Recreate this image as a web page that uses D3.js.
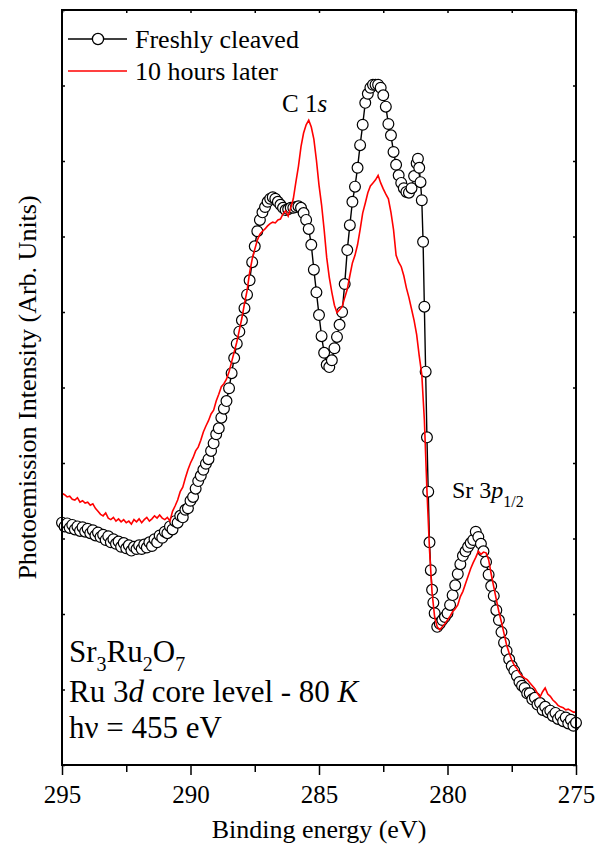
<!DOCTYPE html>
<html>
<head>
<meta charset="utf-8">
<script src="https://cdn.jsdelivr.net/npm/d3@7"></script>
<style>
  body { margin: 0; background: #fff; }
</style>
</head>
<body>
<svg id="chart" width="596" height="846"></svg>
<script>
const serif = '"Liberation Serif", "Times New Roman", Times, "DejaVu Serif", serif';

// binding energy grid, 295 -> 275 eV in 0.1 eV steps
const energies = d3.range(0, 201).map(i => +(295 - i * 0.1).toFixed(2));

// freshly cleaved, intensity (arb. units) at each energy above
const freshI = [
  3.21,3.16,3.20,3.14,3.18,3.12,3.16,3.10,3.15,3.09,
  3.13,3.07,3.11,3.04,3.08,3.02,3.05,2.98,3.03,2.95,
  2.99,2.93,2.96,2.89,2.94,2.87,2.91,2.84,2.89,2.86,
  2.91,2.86,2.92,2.88,2.95,2.90,2.99,2.95,3.04,3.01,
  3.09,3.07,3.16,3.12,3.23,3.21,3.30,3.28,3.38,3.40,
  3.50,3.55,3.66,3.76,3.83,3.91,3.99,4.05,4.16,4.26,
  4.38,4.46,4.60,4.72,4.82,4.99,5.19,5.39,5.58,5.74,
  5.89,6.05,6.23,6.42,6.66,6.87,7.07,7.22,7.32,7.39,
  7.46,7.50,7.52,7.50,7.46,7.42,7.38,7.35,7.36,7.38,
  7.38,7.39,7.40,7.38,7.31,7.22,7.10,6.89,6.56,6.26,
  5.96,5.68,5.46,5.30,5.27,5.36,5.52,5.67,5.83,6.00,
  6.37,6.82,7.15,7.46,7.66,7.91,8.21,8.48,8.77,8.89,
  8.97,9.01,9.01,9.01,8.97,8.87,8.72,8.49,8.34,8.12,
  7.95,7.81,7.71,7.64,7.59,7.58,7.64,7.80,7.97,7.91,
  7.48,6.07,4.34,2.95,2.32,2.01,1.83,1.87,1.92,1.96,
  2.01,2.12,2.25,2.38,2.53,2.66,2.77,2.83,2.89,2.94,
  2.98,3.09,3.02,2.93,2.83,2.69,2.52,2.37,2.24,2.05,
  1.92,1.76,1.62,1.51,1.40,1.31,1.25,1.18,1.10,1.05,
  1.02,0.95,0.95,0.87,0.89,0.80,0.82,0.73,0.77,0.70,
  0.72,0.65,0.69,0.61,0.65,0.58,0.63,0.55,0.60,0.52,
  0.56
];
// extra half-step readings on the steep Ru edge
const freshEdge = [
  [281.15, 8.03], [281.05, 7.72], [280.95, 6.93], [280.85, 5.21],
  [280.75, 3.62], [280.65, 2.58], [280.55, 2.15]
];

// 10 hours later
const laterI = [
  3.60,3.58,3.55,3.56,3.52,3.51,3.54,3.48,3.50,3.47,
  3.48,3.44,3.46,3.40,3.36,3.32,3.30,3.34,3.27,3.25,
  3.28,3.23,3.26,3.22,3.25,3.21,3.23,3.19,3.25,3.22,
  3.26,3.21,3.25,3.28,3.23,3.26,3.30,3.27,3.31,3.27,
  3.25,3.28,3.23,3.36,3.43,3.51,3.62,3.68,3.80,3.91,
  4.00,4.07,4.16,4.21,4.30,4.41,4.49,4.56,4.65,4.70,
  4.82,4.91,5.01,5.05,5.11,5.21,5.34,5.47,5.60,5.76,
  5.92,6.11,6.28,6.52,6.70,6.83,6.95,7.03,7.07,7.10,
  7.14,7.17,7.19,7.18,7.22,7.23,7.30,7.34,7.27,7.38,
  7.50,7.72,7.93,8.19,8.37,8.48,8.54,8.45,8.29,8.01,
  7.68,7.42,7.09,6.72,6.46,6.26,6.09,5.99,6.03,6.07,
  6.19,6.30,6.48,6.65,6.75,6.89,7.09,7.31,7.44,7.58,
  7.67,7.71,7.75,7.81,7.71,7.63,7.56,7.50,7.32,7.09,
  6.75,6.66,6.60,6.48,6.32,6.19,6.04,5.89,5.70,5.42,
  5.17,4.57,3.64,2.85,2.28,1.96,1.83,1.79,1.83,1.87,
  1.92,1.97,2.03,2.07,2.12,2.23,2.30,2.40,2.50,2.60,
  2.68,2.75,2.83,2.79,2.82,2.81,2.72,2.53,2.36,2.19,
  2.03,1.89,1.74,1.59,1.48,1.39,1.32,1.28,1.22,1.18,
  1.15,1.13,1.09,1.05,1.01,0.95,0.90,0.97,1.02,0.94,
  0.91,0.86,0.83,0.79,0.77,0.76,0.73,0.74,0.72,0.70,
  0.70
];

const xTicks = [295, 290, 285, 280, 275];
const xMinor = [292.5, 287.5, 282.5, 277.5];
const yTicks = d3.range(0, 11);
const legendLabels = ["Freshly cleaved", "10 hours later"];

const margin = {top: 10, right: 20, bottom: 81, left: 62};
const width = 596, height = 846;
const wG = width - margin.left - margin.right;
const hG = height - margin.top - margin.bottom;

const x = d3.scaleLinear().domain([295, 275]).range([0, wG]);
const y = d3.scaleLinear().domain([0, 10]).range([hG, 0]);

const svg = d3.select('#chart').attr('font-family', serif).style('font-family', serif);
const g = svg.append('g').attr('transform', `translate(${margin.left},${margin.top})`);

const fresh = energies.map((e, i) => [e, freshI[i]])
  .concat(freshEdge)
  .sort((a, b) => b[0] - a[0]);
const later = energies.map((e, i) => [e, laterI[i]]);

const line = d3.line().x(d => x(d[0])).y(d => y(d[1]));

// data
g.append('path').datum(fresh)
  .attr('d', line).attr('fill', 'none')
  .attr('stroke', '#000').attr('stroke-width', 1.4);
g.append('g').selectAll('circle').data(fresh).join('circle')
  .attr('cx', d => x(d[0])).attr('cy', d => y(d[1]))
  .attr('r', 5.4).attr('fill', '#fff')
  .attr('stroke', '#000').attr('stroke-width', 1.2);
g.append('path').datum(later)
  .attr('d', line).attr('fill', 'none')
  .attr('stroke', '#f00').attr('stroke-width', 1.6);

// axes
const axB = g.append('g').attr('transform', `translate(0,${hG})`)
  .call(d3.axisBottom(x).tickValues(xTicks).tickSize(10).tickPadding(4).tickFormat(d3.format('d')));
const axBm = g.append('g').attr('transform', `translate(0,${hG})`)
  .call(d3.axisBottom(x).tickValues(xMinor).tickSize(7).tickFormat(''));
const axT = g.append('g')
  .call(d3.axisBottom(x).tickValues(xTicks.concat(xMinor)).tickSize(3).tickFormat(''));
const axL = g.append('g')
  .call(d3.axisRight(y).tickValues(yTicks).tickSize(3).tickFormat(''));
const axR = g.append('g').attr('transform', `translate(${wG},0)`)
  .call(d3.axisLeft(y).tickValues(yTicks).tickSize(3).tickFormat(''));
[axB, axBm, axT, axL, axR].forEach(a => {
  a.attr('font-family', serif);
  a.select('.domain').remove();
  a.selectAll('line').attr('stroke', '#000').attr('stroke-width', 1.5);
});
axB.selectAll('text').style('font-family', serif).style('font-size', '25px').attr('dy', '0.95em');

// frame
g.append('rect').attr('width', wG).attr('height', hG)
  .attr('fill', 'none').attr('stroke', '#000').attr('stroke-width', 2);

// titles
svg.append('text').attr('x', margin.left + wG / 2).attr('y', 838)
  .attr('text-anchor', 'middle').style('font-size', '26px')
  .text('Binding energy (eV)');
svg.append('text')
  .attr('transform', `translate(36,${margin.top + hG / 2}) rotate(-90)`)
  .attr('text-anchor', 'middle').style('font-size', '26px')
  .text('Photoemission Intensity (Arb. Units)');

// legend
const leg = svg.append('g').attr('transform', 'translate(68,39)');
leg.selectAll('line').data(legendLabels).join('line')
  .attr('x1', 0).attr('x2', 59).attr('y1', (d, i) => i * 32).attr('y2', (d, i) => i * 32)
  .attr('stroke', (d, i) => i ? '#f00' : '#000').attr('stroke-width', (d, i) => i ? 1.6 : 1.4);
leg.append('circle').attr('cx', 30).attr('cy', 0).attr('r', 5.6)
  .attr('fill', '#fff').attr('stroke', '#000').attr('stroke-width', 1.3);
leg.selectAll('text').data(legendLabels).join('text')
  .attr('x', 67).attr('y', (d, i) => i * 32 + 9)
  .style('font-size', '26px').text(d => d);

// peak labels
const c1s = svg.append('text').attr('x', 282).attr('y', 112).style('font-size', '25px');
c1s.append('tspan').text('C 1');
c1s.append('tspan').style('font-style', 'italic').text('s');

const sr = svg.append('text').attr('x', 452).attr('y', 498).style('font-size', '24px');
sr.append('tspan').text('Sr 3');
sr.append('tspan').style('font-style', 'italic').text('p');
sr.append('tspan').attr('dy', 9).style('font-size', '16px').text('1/2');

// sample info
const info = svg.append('g').attr('transform', 'translate(69,0)');
const l1 = info.append('text').attr('y', 662).style('font-size', '31px');
l1.append('tspan').text('Sr');
l1.append('tspan').attr('dy', 9).style('font-size', '20px').text('3');
l1.append('tspan').attr('dy', -9).text('Ru');
l1.append('tspan').attr('dy', 9).style('font-size', '20px').text('2');
l1.append('tspan').attr('dy', -9).text('O');
l1.append('tspan').attr('dy', 9).style('font-size', '20px').text('7');
const l2 = info.append('text').attr('y', 702).style('font-size', '31px');
l2.append('tspan').text('Ru 3');
l2.append('tspan').style('font-style', 'italic').text('d');
l2.append('tspan').text(' core level - 80 ');
l2.append('tspan').style('font-style', 'italic').text('K');
info.append('text').attr('y', 738).style('font-size', '31px').text('h\u03bd = 455 eV');
</script>
</body>
</html>
